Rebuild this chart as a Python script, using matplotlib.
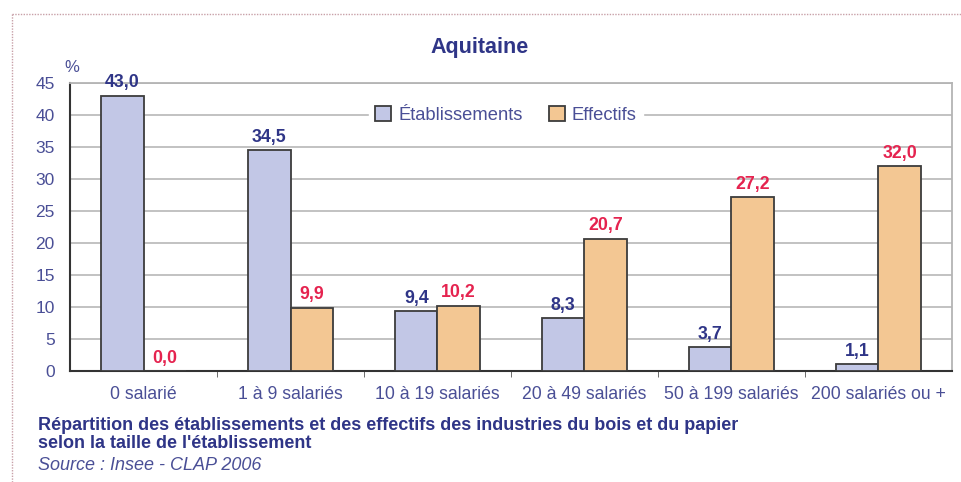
import matplotlib.pyplot as plt
import numpy as np

categories = ["0 salarié", "1 à 9 salariés", "10 à 19 salariés", "20 à 49 salariés",
              "50 à 199 salariés", "200 salariés ou +"]
etablissements = [43.0, 34.5, 9.4, 8.3, 3.7, 1.1]
effectifs = [0.0, 9.9, 10.2, 20.7, 27.2, 32.0]
series_names = ["Établissements", "Effectifs"]
yticks = [0, 5, 10, 15, 20, 25, 30, 35, 40, 45]

c_etab = "#c2c7e6"
c_eff = "#f3c793"
edge = "#3c3c3c"
txt = "#4a4f96"
title_c = "#2f3587"
red = "#e5234f"

plt.rcParams['font.family'] = ['Liberation Sans', 'DejaVu Sans']

fig = plt.figure(figsize=(9.61, 4.82), dpi=100)
ax = fig.add_axes([70/961, 1-371/482, 882/961, 288/482])

x = np.arange(len(categories))
w = 0.288
ax.bar(x - w/2, etablissements, w, color=c_etab, edgecolor=edge, linewidth=1.3,
       label=series_names[0], zorder=3)
ax.bar(x + w/2, effectifs, w, color=c_eff, edgecolor=edge, linewidth=1.3,
       label=series_names[1], zorder=3)

for xi, v in zip(x, etablissements):
    ax.annotate(f"{v:.1f}".replace(".", ","), (xi - w/2, v), xytext=(0, 6),
                textcoords="offset points", ha="center", va="baseline",
                color=title_c, fontsize=12.8, fontweight="bold")
for xi, v in zip(x, effectifs):
    ax.annotate(f"{v:.1f}".replace(".", ","), (xi + w/2, v), xytext=(0, 6),
                textcoords="offset points", ha="center", va="baseline",
                color=red, fontsize=12.8, fontweight="bold")

ax.set_xlim(-0.5, len(categories) - 0.5)
ax.set_ylim(0, 45)
ax.set_yticks(yticks)
ax.set_yticklabels([str(t) for t in yticks], color=txt, fontsize=12.5)
ax.yaxis.grid(True, color="#bdbdbd", linewidth=1.3, zorder=0)
ax.set_axisbelow(True)
ax.tick_params(axis="y", length=0, pad=11)

ax.set_xticks(x)
ax.set_xticklabels(categories, color=txt, fontsize=12.7)
ax.tick_params(axis="x", length=0, pad=11)
ax.set_xticks(np.arange(0.5, len(categories) - 0.5, 1), minor=True)
ax.tick_params(axis="x", which="minor", length=4, color="#555555", direction="out")

for s in ["left", "bottom"]:
    ax.spines[s].set_color("#333333")
    ax.spines[s].set_linewidth(1.5)
for s in ["top", "right"]:
    ax.spines[s].set_color("#b4b4b4")
    ax.spines[s].set_linewidth(1.3)

leg = ax.legend(loc="center", bbox_to_anchor=((506-70)/882, 40/45), ncol=2,
                frameon=True, fontsize=13.2, handlelength=0.87, handleheight=0.87,
                columnspacing=1.4, handletextpad=0.4, borderpad=0.35, borderaxespad=0,
                fancybox=False)
leg.get_frame().set_facecolor("white")
leg.get_frame().set_edgecolor("white")
leg.get_frame().set_alpha(1)
leg.set_zorder(5)
for t in leg.get_texts():
    t.set_color(txt)

fig.text(72/961, 1-67/482, "%", color=txt, fontsize=12, ha="center", va="center")
fig.text(480/961, 1-48/482, "Aquitaine", color=title_c, fontsize=15.5, fontweight="bold",
         ha="center", va="center")
fig.text(38/961, 1-425/482, "Répartition des établissements et des effectifs des industries du bois et du papier",
         color=title_c, fontsize=13, fontweight="bold", ha="left", va="center")
fig.text(38/961, 1-444/482, "selon la taille de l'établissement",
         color=title_c, fontsize=13, fontweight="bold", ha="left", va="center")
fig.text(38/961, 1-465/482, "Source : Insee - CLAP 2006",
         color=txt, fontsize=13, style="italic", ha="left", va="center")

# dotted frame
fig.add_artist(plt.Line2D([12/961, 12/961], [1-14/482, 0], transform=fig.transFigure,
                          color="#c8a0a8", linestyle=(0, (1, 1)), linewidth=1))
fig.add_artist(plt.Line2D([12/961, 1], [1-14/482, 1-14/482], transform=fig.transFigure,
                          color="#c8a0a8", linestyle=(0, (1, 1)), linewidth=1))

fig.savefig("out.png", dpi=100)
